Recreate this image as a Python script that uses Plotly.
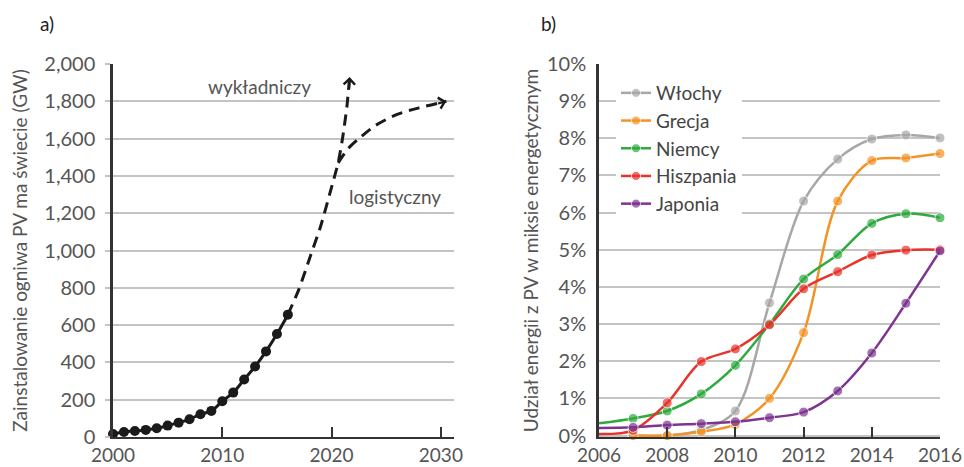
import plotly.graph_objects as go

# ---------- Panel a) data ----------
years_a = list(range(2000, 2017))
pv_gw = [16, 27, 32, 38, 47, 61, 77, 95, 122, 140, 192, 238, 308, 378, 459, 552, 656]

exp_years = [2016, 2017, 2018, 2019, 2020, 2020.6, 2021, 2021.4, 2021.65]
exp_vals = [656, 790, 960, 1130, 1340, 1470, 1600, 1770, 1930]

log_years = [2020.6, 2021.5, 2022.5, 2024, 2026, 2028, 2030.5]
log_vals = [1470, 1545, 1600, 1670, 1730, 1765, 1800]

y_ticks_a = list(range(0, 2001, 200))
x_ticks_a = [2000, 2010, 2020, 2030]

# ---------- Panel b) data ----------
years_b = list(range(2006, 2017))
countries = ["Włochy", "Grecja", "Niemcy", "Hiszpania", "Japonia"]
colors = ["#a7a7a7", "#f39325", "#2eaa3f", "#e8322a", "#7d3591"]
share = {
    "Włochy":    [None, 0.0, 0.0, 0.15, 0.66, 3.57, 6.31, 7.44, 7.98, 8.09, 8.01],
    "Grecja":    [None, 0.0, 0.0, 0.1, 0.3, 1.0, 2.77, 6.31, 7.4, 7.47, 7.59],
    "Niemcy":    [0.33, 0.46, 0.66, 1.12, 1.89, 3.0, 4.21, 4.87, 5.71, 5.97, 5.86],
    "Hiszpania": [0.04, 0.14, 0.88, 1.99, 2.33, 2.98, 3.95, 4.41, 4.86, 4.99, 5.0],
    "Japonia":   [0.2, 0.22, 0.28, 0.32, 0.37, 0.48, 0.63, 1.2, 2.22, 3.56, 4.97],
}
y_ticks_b = list(range(0, 11))
y_text_b = [f"{v}%" for v in y_ticks_b]
x_ticks_b = [2006, 2008, 2010, 2012, 2014, 2016]

FONT = "Lato, 'Open Sans', sans-serif"
GRID = "#c4c4c4"
TICKC = "#555555"
AXC = "#333333"
W, H = 964, 467

fig = go.Figure()

# Panel a
fig.add_trace(go.Scatter(
    x=exp_years, y=exp_vals, mode="lines", xaxis="x", yaxis="y",
    line=dict(color="#1a1a1a", width=3, dash="11px,7px", shape="spline", smoothing=0.5),
    showlegend=False, hoverinfo="skip"))
fig.add_trace(go.Scatter(
    x=log_years, y=log_vals, mode="lines", xaxis="x", yaxis="y",
    line=dict(color="#1a1a1a", width=3, dash="11px,7px", shape="spline", smoothing=0.8),
    showlegend=False, hoverinfo="skip"))
fig.add_trace(go.Scatter(
    x=years_a, y=pv_gw, mode="lines+markers", xaxis="x", yaxis="y",
    line=dict(color="#1a1a1a", width=3, shape="spline"),
    marker=dict(color="#1a1a1a", size=10), cliponaxis=False,
    showlegend=False))

# Panel b
for name, col in zip(countries, colors):
    vals = share[name]
    sizes = [0 if (i == 0) else 10 for i in range(len(vals))]
    fig.add_trace(go.Scatter(
        x=years_b, y=vals, mode="lines+markers", name=name, xaxis="x2", yaxis="y2",
        line=dict(color=col, width=2.5, shape="spline", smoothing=0.9),
        marker=dict(color=col, size=sizes), cliponaxis=False, connectgaps=False))

annotations = [
    dict(text="a)", x=47 / W, y=1 - 23 / H, xref="paper", yref="paper", showarrow=False,
         xanchor="center", yanchor="middle",
         font=dict(size=19, color="#222", family=FONT)),
    dict(text="b)", x=548 / W, y=1 - 23 / H, xref="paper", yref="paper", showarrow=False,
         xanchor="center", yanchor="middle",
         font=dict(size=19, color="#222", family=FONT)),
    dict(text="wykładniczy", x=2008.5, y=1880, xref="x", yref="y", showarrow=False,
         xanchor="left", yanchor="middle", font=dict(size=19, color="#555", family=FONT)),
    dict(text="logistyczny", x=2021.4, y=1290, xref="x", yref="y", showarrow=False,
         xanchor="left", yanchor="middle", font=dict(size=19, color="#555", family=FONT)),
    dict(text="", x=exp_years[-1], y=exp_vals[-1], ax=2021.6, ay=1860,
         xref="x", yref="y", axref="x", ayref="y", showarrow=True,
         arrowhead=4, arrowsize=1, arrowwidth=2.2, arrowcolor="#1a1a1a"),
    dict(text="", x=log_years[-1], y=log_vals[-1], ax=2029.6, ay=1786,
         xref="x", yref="y", axref="x", ayref="y", showarrow=True,
         arrowhead=4, arrowsize=1, arrowwidth=2.2, arrowcolor="#1a1a1a"),
]

ydom = [30 / H, 1 - 64 / H]
tickfont = dict(size=20, color=TICKC, family=FONT)
xtickfont = dict(size=19, color=TICKC, family=FONT)
titlefont = dict(size=19, color=TICKC, family=FONT)

fig.update_layout(
    template="none",
    width=W, height=H, margin=dict(l=0, r=0, t=0, b=0, autoexpand=False),
    paper_bgcolor="white", plot_bgcolor="white",
    font=dict(family=FONT, size=18, color=TICKC),
    xaxis=dict(domain=[113 / W, 454 / W], range=[2000, 2031.2], automargin=False,
               tickmode="array", tickvals=x_ticks_a, ticks="inside", ticklen=10,
               tickwidth=2, tickcolor=AXC, showgrid=False, zeroline=False,
               showline=True, linecolor=AXC, linewidth=2, ticklabelstandoff=0,
               tickfont=xtickfont, anchor="y"),
    yaxis=dict(domain=ydom, range=[0, 2000], automargin=False,
               tickmode="array", tickvals=y_ticks_a,
               ticktext=[f"{v:,}" for v in y_ticks_a],
               showgrid=True, gridcolor=GRID, gridwidth=1.5, zeroline=False,
               showline=True, linecolor=AXC, linewidth=2.5,
               ticks="outside", ticklen=5, tickwidth=1.5, tickcolor=GRID,
               ticklabelstandoff=6,
               tickfont=tickfont, anchor="x",
               title=dict(text="Zainstalowanie ogniwa PV ma świecie (GW)",
                          font=titlefont, standoff=12)),
    xaxis2=dict(domain=[599 / W, 940 / W], range=[2006, 2016], automargin=False,
                tickmode="array", tickvals=x_ticks_b, ticks="inside",
                ticklen=10, tickwidth=2, tickcolor=AXC, showgrid=False,
                zeroline=False, showline=True, linecolor=AXC, linewidth=2,
                ticklabelstandoff=0,
                tickfont=xtickfont, anchor="y2"),
    yaxis2=dict(domain=ydom, range=[-0.04, 10], automargin=False,
                tickmode="array", tickvals=y_ticks_b, ticktext=y_text_b,
                showgrid=True, gridcolor=GRID, gridwidth=1.5,
                zeroline=False, showline=True, linecolor=AXC, linewidth=2.5,
                ticks="", ticklabelstandoff=6,
                tickfont=tickfont, anchor="x2",
                title=dict(text="Udział energii z PV w miksie energetycznym",
                           font=titlefont, standoff=4)),
    legend=dict(x=616 / W, y=1 - 74 / H, xanchor="left", yanchor="top",
                bgcolor="white", font=dict(size=19, color="#444", family=FONT),
                borderwidth=0, itemwidth=30),
    annotations=annotations,
)

fig.write_html(
    "out.html",
    config={"displayModeBar": False},
    post_script="document.body.style.margin='0px';document.body.style.overflow='hidden';",
)
